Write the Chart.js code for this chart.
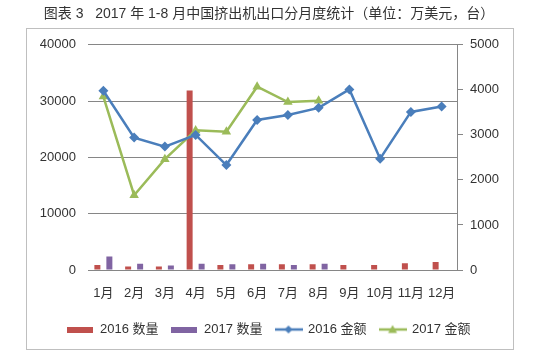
<!DOCTYPE html>
<html><head><meta charset="utf-8">
<script src="https://cdn.jsdelivr.net/npm/chart.js@4/dist/chart.umd.min.js"></script>
<style>html,body{margin:0;padding:0;background:#fff}canvas{display:block}</style>
</head><body>
<canvas id="c" width="538" height="358"></canvas>
<script>
const titleText = '图表 3   2017 年 1-8 月中国挤出机出口分月度统计（单位：万美元，台）';
const categories = ['1月','2月','3月','4月','5月','6月','7月','8月','9月','10月','11月','12月'];
const seriesNames = ['2016 数量','2017 数量','2016 金额','2017 金额'];
const qty2016 = [900,600,600,31900,900,1000,1000,1000,900,900,1200,1400];
const qty2017 = [2400,1100,800,1100,1000,1100,900,1100,null,null,null,null];
const amount2016 = [3980,2940,2740,3000,2330,3330,3440,3600,4010,2470,3510,3630];
const amount2017 = [3850,1660,2460,3100,3070,4070,3730,3760,null,null,null,null];
const leftTicks = [0,10000,20000,30000,40000];
const rightTicks = [0,1000,2000,3000,4000,5000];

const RED='#C0504D', PURPLE='#8064A2', BLUE='#4A7EBB', GREEN='#9BBB59', GRID='#868686', TXT='#333333';
const FONT = "'Liberation Sans', 'Noto Sans CJK SC', sans-serif";
Chart.defaults.font.family = FONT;

function barIcon(color){
  const c=document.createElement('canvas'); c.width=26; c.height=6;
  const x=c.getContext('2d'); x.fillStyle=color; x.fillRect(0,0,26,6); return c;
}
function lineIcon(color, marker){
  const c=document.createElement('canvas'); c.width=28; c.height=12;
  const x=c.getContext('2d'); x.strokeStyle=color; x.lineWidth=2.5;
  x.beginPath(); x.moveTo(0,6); x.lineTo(28,6); x.stroke();
  x.fillStyle=color; x.beginPath();
  if(marker==='diamond'){ x.moveTo(14,2); x.lineTo(18,6); x.lineTo(14,10); x.lineTo(10,6); }
  else { x.moveTo(14,1.5); x.lineTo(18.5,9.5); x.lineTo(9.5,9.5); }
  x.closePath(); x.fill(); return c;
}
const icons=[barIcon(RED),barIcon(PURPLE),lineIcon(BLUE,'diamond'),lineIcon(GREEN,'triangle')];

const framePlugin={id:'frame',beforeDraw(chart){
  const ctx=chart.ctx; ctx.save(); ctx.fillStyle='#fff'; ctx.fillRect(0,0,chart.width,chart.height);
  ctx.strokeStyle='#BFBFBF'; ctx.lineWidth=1; ctx.strokeRect(26.5,28.5,487,321); ctx.restore();
}};

new Chart(document.getElementById('c'),{
  data:{labels:categories,datasets:[
    {type:'bar',label:seriesNames[0],data:qty2016,yAxisID:'y',backgroundColor:RED,order:2,categoryPercentage:0.78,barPercentage:0.5},
    {type:'bar',label:seriesNames[1],data:qty2017,yAxisID:'y',backgroundColor:PURPLE,order:2,categoryPercentage:0.78,barPercentage:0.5},
    {type:'line',label:seriesNames[2],data:amount2016,yAxisID:'y1',borderColor:BLUE,backgroundColor:BLUE,borderWidth:2.5,pointStyle:'rectRot',pointRadius:5,pointBorderWidth:0,pointBackgroundColor:BLUE,tension:0,order:1},
    {type:'line',label:seriesNames[3],data:amount2017,yAxisID:'y1',borderColor:GREEN,backgroundColor:GREEN,borderWidth:2.5,pointStyle:'triangle',pointRadius:5.5,pointBorderWidth:0,pointBackgroundColor:GREEN,tension:0,order:1}
  ]},
  options:{
    responsive:false,animation:false,
    layout:{padding:{left:0,right:0,top:0,bottom:12}},
    plugins:{
      title:{display:true,text:titleText,color:TXT,font:{size:14,weight:'normal'},padding:{top:6,bottom:22}},
      legend:{position:'bottom',labels:{usePointStyle:true,pointStyleWidth:26,padding:13,color:TXT,font:{size:13},
        generateLabels(chart){return chart.data.datasets.map((ds,i)=>({text:ds.label,pointStyle:icons[i],fillStyle:'rgba(0,0,0,0)',strokeStyle:'rgba(0,0,0,0)',lineWidth:0,hidden:false,datasetIndex:i,fontColor:TXT}));}}},
      tooltip:{enabled:false}
    },
    scales:{
      x:{grid:{display:false,drawTicks:false},border:{display:true,color:GRID},ticks:{color:TXT,font:{size:13},padding:16,maxRotation:0,autoSkip:false},
        afterFit(s){s.height=40;}},
      y:{position:'left',min:0,max:40000,grid:{color:GRID,drawTicks:false},border:{display:false},
        ticks:{color:TXT,font:{size:13},padding:12,callback:v=>String(v)},
        afterBuildTicks(s){s.ticks=leftTicks.map(v=>({value:v}));},
        afterFit(s){s.width=88;}},
      y1:{position:'right',min:0,max:5000,grid:{drawOnChartArea:false,drawTicks:true,tickLength:6,color:GRID},border:{display:true,color:GRID},
        ticks:{color:TXT,font:{size:13},padding:7,callback:v=>String(v)},
        afterBuildTicks(s){s.ticks=rightTicks.map(v=>({value:v}));},
        afterFit(s){s.width=81;}}
    }
  },
  plugins:[framePlugin]
});
</script>
</body></html>
